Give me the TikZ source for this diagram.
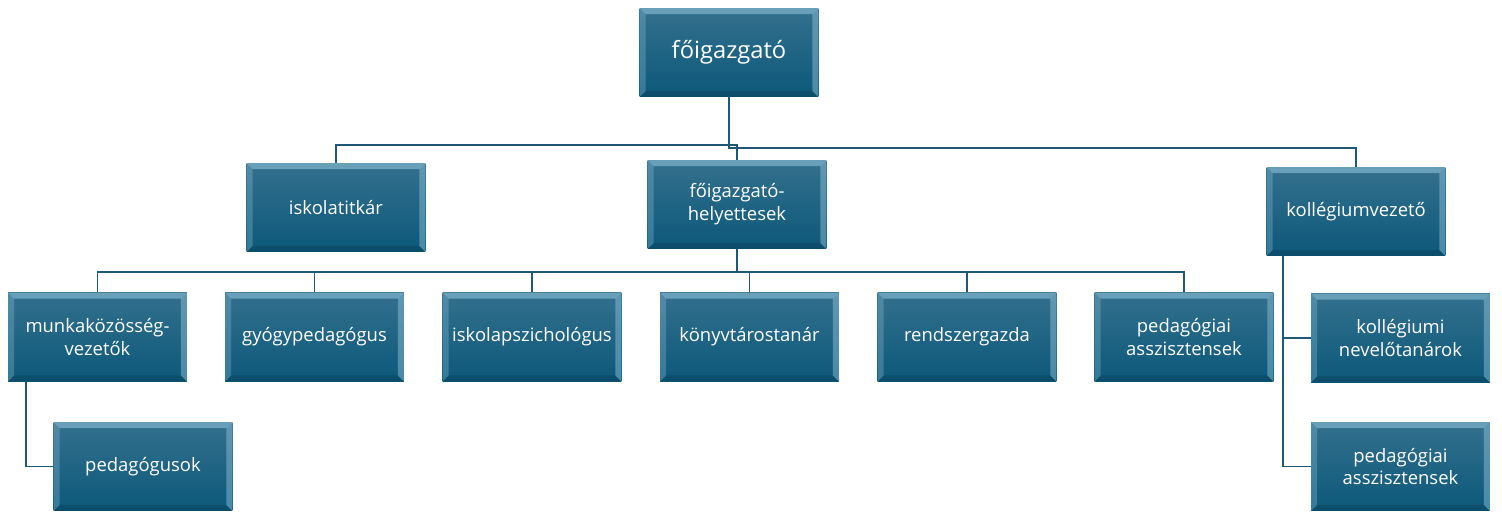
\documentclass[tikz,border=0pt]{standalone}
\usepackage{fontspec}
\setmainfont{Open Sans}
\definecolor{boxtop}{RGB}{52,112,142}
\definecolor{boxbot}{RGB}{12,88,122}
\definecolor{bevlight}{RGB}{150,200,222}
\definecolor{connc}{RGB}{30,88,118}
\tikzset{
  orgbox/.style={rectangle, minimum width=3.58cm, minimum height=1.78cm, inner sep=0pt,
    text=white, align=center, font=\fontsize{10.5}{13}\selectfont,
    top color=boxtop, bottom color=boxbot,
    path picture={
      \fill[bevlight,opacity=0.55] (path picture bounding box.north west) -- (path picture bounding box.north east)
        -- ([xshift=-3.5pt,yshift=-3.5pt]path picture bounding box.north east) -- ([xshift=3.5pt,yshift=-3.5pt]path picture bounding box.north west) -- cycle;
      \fill[bevlight,opacity=0.3] (path picture bounding box.north west) -- ([xshift=3.5pt,yshift=-3.5pt]path picture bounding box.north west)
        -- ([xshift=3.5pt,yshift=3.5pt]path picture bounding box.south west) -- (path picture bounding box.south west) -- cycle;
      \fill[bevlight,opacity=0.45] (path picture bounding box.north east) -- ([xshift=-3.5pt,yshift=-3.5pt]path picture bounding box.north east)
        -- ([xshift=-3.5pt,yshift=3.5pt]path picture bounding box.south east) -- (path picture bounding box.south east) -- cycle;
      \fill[black,opacity=0.12] (path picture bounding box.south west) -- ([xshift=3.5pt,yshift=3.5pt]path picture bounding box.south west)
        -- ([xshift=-3.5pt,yshift=3.5pt]path picture bounding box.south east) -- (path picture bounding box.south east) -- cycle;
    }},
  conn/.style={draw=connc, line width=1.1pt}
}
\begin{document}
\begin{tikzpicture}[x=0.02cm,y=-0.02cm]
\useasboundingbox (0,0) rectangle (1502,511);
% nodes
\node[orgbox, font=\fontsize{13.5}{16}\selectfont] (top) at (729,52.5) {főigazgató};
\node[orgbox] (it) at (336,207.5) {iskolatitkár};
\node[orgbox] (fh) at (737,204.5) {főigazgató-\\helyettesek};
\node[orgbox] (kv) at (1356,211.5) {kollégiumvezető};
\node[orgbox] (mkv) at (97.5,337) {munkaközösség-\\vezetők};
\node[orgbox] (gy) at (314.5,337) {gyógypedagógus};
\node[orgbox] (ip) at (532,337) {iskolapszichológus};
\node[orgbox] (kt) at (749.5,337) {könyvtárostanár};
\node[orgbox] (rg) at (967,337) {rendszergazda};
\node[orgbox] (pa) at (1184,337) {pedagógiai\\asszisztensek};
\node[orgbox] (ped) at (143,466.5) {pedagógusok};
\node[orgbox] (kn) at (1400.5,338) {kollégiumi\\nevelőtanárok};
\node[orgbox] (pa2) at (1400.5,466.5) {pedagógiai\\asszisztensek};
% junctions
\coordinate (j1) at (729,148);
\coordinate (j2) at (729,145);
\coordinate (j3) at (737,272);
% connectors
\draw[conn] (top.south) -- (j1) -| (kv.north);
\draw[conn] (it.north) |- (j2) -| (fh.north);
\draw[conn] (fh.south) -- (j3);
\foreach \n in {mkv,gy,ip,kt,rg,pa} { \draw[conn] (j3) -| (\n.north); }
\draw[conn] ([xshift=0.36cm]mkv.south west) |- (ped.west);
\draw[conn] ([xshift=0.34cm]kv.south west) |- (kn.west);
\draw[conn] ([xshift=0.34cm]kv.south west) |- (pa2.west);
\end{tikzpicture}
\end{document}
